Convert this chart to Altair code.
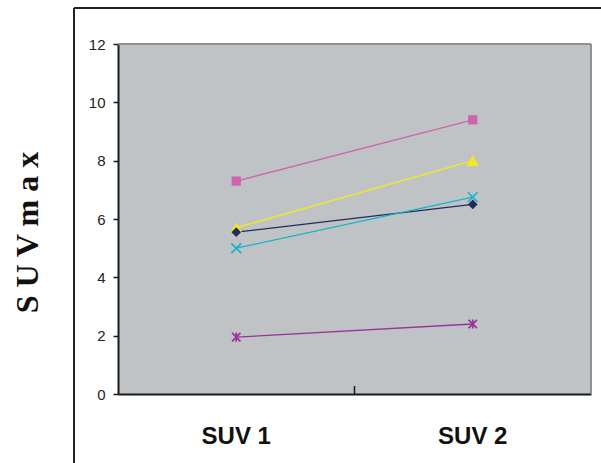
import altair as alt
import pandas as pd

# Two measurement time points and five cases
timepoints = ["SUV 1", "SUV 2"]
case_a = [7.3, 9.4]    # pink squares
case_b = [5.7, 8.0]    # yellow triangles
case_c = [5.55, 6.5]   # navy diamonds
case_d = [5.0, 6.75]   # cyan crosses
case_e = [1.95, 2.4]   # purple asterisks

series_names = ["A", "B", "C", "D", "E"]
series_values = [case_a, case_b, case_c, case_d, case_e]
series_colors = ["#cc66aa", "#f2ea1c", "#222c5c", "#16b4c8", "#993399"]
series_shapes = [
    "square",
    "triangle-up",
    "diamond",
    "M-1,-1L1,1M-1,1L1,-1",
    "M-1,-1L1,1M-1,1L1,-1M0,-1.1L0,1.1",
]
series_filled = [True, True, True, False, False]
series_sizes = [85, 150, 95, 95, 70]

rows = []
for name, vals in zip(series_names, series_values):
    for t, v in zip(timepoints, vals):
        rows.append({"time": t, "value": v, "case": name})
df = pd.DataFrame(rows)

W, H = 473, 350

x_enc = alt.X(
    "time:N",
    scale=alt.Scale(domain=timepoints, paddingInner=0, paddingOuter=0),
    axis=alt.Axis(
        title=None, ticks=False, domain=True, domainColor="#1a1a1a", domainWidth=2,
        labelFont="Liberation Sans", labelFontWeight="bold",
        labelFontSize=24, labelColor="#111111", labelPadding=30, labelAngle=0,
    ),
)
y_enc = alt.Y(
    "value:Q",
    scale=alt.Scale(domain=[0, 12], nice=False),
    axis=alt.Axis(
        values=[0, 2, 4, 6, 8, 10, 12], grid=False, title="S U V m a x",
        titleFont="Liberation Serif", titleFontWeight="bold", titleFontSize=32,
        titleColor="#111111", titlePadding=44, titleY=188,
        tickSize=5, tickColor="#1a1a1a", tickWidth=1.5,
        domainColor="#1a1a1a", domainWidth=2,
        labelFont="Liberation Sans", labelFontSize=15,
        labelColor="#222222", labelPadding=8,
    ),
)

color_scale = alt.Scale(domain=series_names, range=series_colors)

lines = alt.Chart(df).mark_line(strokeWidth=1.3).encode(
    x=x_enc, y=y_enc,
    color=alt.Color("case:N", scale=color_scale, legend=None),
    detail="case:N",
)

point_layers = []
for name, color, shape, filled, size in zip(
    series_names, series_colors, series_shapes, series_filled, series_sizes
):
    sub = df[df["case"] == name]
    if filled:
        m = alt.Chart(sub).mark_point(shape=shape, filled=True, color=color, size=size, opacity=1)
    else:
        m = alt.Chart(sub).mark_point(shape=shape, filled=False, color=color, size=size,
                                      strokeWidth=1.7, opacity=1)
    point_layers.append(m.encode(x="time:N", y="value:Q"))

# Boundary tick between the two categories, pointing into the plot
mid_tick = alt.Chart(pd.DataFrame({"time": [timepoints[1]]})).mark_rule(
    color="#1a1a1a", strokeWidth=1.5
).encode(
    x=alt.X("time:N", bandPosition=0),
    y=alt.value(H),
    y2=alt.value(H - 8),
)

# Top and right plot edges in dark grey
top_edge = alt.Chart(pd.DataFrame({"a": [0]})).mark_rule(color="#8d9094", strokeWidth=2).encode(
    x=alt.value(0), x2=alt.value(W), y=alt.value(0)
)
right_edge = alt.Chart(pd.DataFrame({"a": [0]})).mark_rule(color="#8d9094", strokeWidth=2).encode(
    x=alt.value(W), y=alt.value(0), y2=alt.value(H)
)

# Outer frame lines around the figure
frame_left = alt.Chart(pd.DataFrame({"a": [0]})).mark_rule(color="#222222", strokeWidth=2, clip=False).encode(
    x=alt.value(-44), y=alt.value(-36), y2=alt.value(H + 80)
)
frame_top = alt.Chart(pd.DataFrame({"a": [0]})).mark_rule(color="#222222", strokeWidth=2, clip=False).encode(
    x=alt.value(-44), x2=alt.value(W + 20), y=alt.value(-36)
)

chart = alt.layer(
    top_edge, right_edge, lines, *point_layers, mid_tick, frame_left, frame_top
).properties(
    width=W, height=H,
    padding={"left": 118, "top": 44, "right": 10, "bottom": 69},
    autosize=alt.AutoSizeParams(type="none"),
    background="#ffffff",
).configure_view(
    fill="#c0c3c6", stroke=None,
)

chart.save("out.html", embed_options={"renderer": "svg", "actions": False})
